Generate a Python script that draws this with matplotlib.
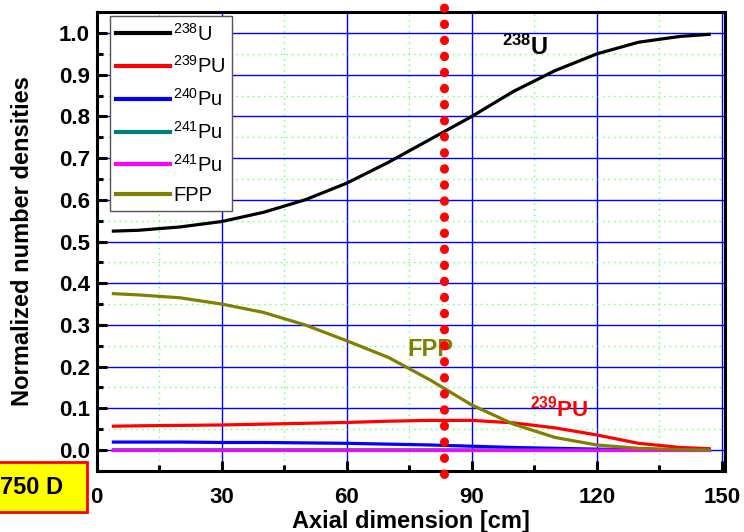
import matplotlib.pyplot as plt
from matplotlib.ticker import MultipleLocator
from matplotlib.patches import Rectangle

plt.rcParams['font.family'] = ['Liberation Sans', 'DejaVu Sans']
plt.rcParams['mathtext.fontset'] = 'custom'
plt.rcParams['mathtext.rm'] = 'Liberation Sans'
plt.rcParams['mathtext.bf'] = 'Liberation Sans:bold'

# axial positions [cm] and normalized number densities
axial = [4, 10, 20, 30, 40, 50, 60, 70, 80, 90, 100, 110, 120, 130, 140, 147]
u238 = [0.525, 0.527, 0.535, 0.548, 0.570, 0.600, 0.640, 0.690, 0.745, 0.800,
        0.860, 0.910, 0.950, 0.978, 0.992, 0.997]
pu239 = [0.057, 0.058, 0.059, 0.060, 0.062, 0.064, 0.066, 0.069, 0.071, 0.071,
         0.065, 0.053, 0.036, 0.016, 0.006, 0.003]
pu240 = [0.019, 0.019, 0.019, 0.018, 0.018, 0.017, 0.016, 0.014, 0.012, 0.009,
         0.006, 0.004, 0.002, 0.001, 0.0005, 0.0]
pu241 = [0.0005, 0.0005, 0.0005, 0.0005, 0.0005, 0.0005, 0.0005, 0.0004, 0.0004,
         0.0003, 0.0002, 0.0001, 0.0, 0.0, 0.0, 0.0]
pu241b = [0.0, 0.0, 0.0, 0.0, 0.0, 0.0, 0.0, 0.0, 0.0, 0.0, 0.0, 0.0, 0.0, 0.0, 0.0, 0.0]
fpp = [0.375, 0.372, 0.365, 0.350, 0.330, 0.300, 0.262, 0.222, 0.168, 0.108,
       0.062, 0.030, 0.012, 0.004, 0.001, 0.0]

series = [
    (u238, 'black', r'$^{238}$U'),
    (pu239, '#ff0000', r'$^{239}$PU'),
    (pu240, '#0000ff', r'$^{240}$Pu'),
    (pu241, '#008080', r'$^{241}$Pu'),
    (pu241b, '#ff00ff', r'$^{241}$Pu'),
    (fpp, '#808000', 'FPP'),
]

cut_position = 83.3

fig = plt.figure(figsize=(7.44, 5.32), dpi=100)
ax = fig.add_axes([0.130, 0.115, 0.844, 0.862])

for values, color, label in series:
    ax.plot(axial, values, color=color, lw=2.3, label=label, zorder=3)

# vertical dotted marker
ax.plot([cut_position, cut_position], [-0.058, 1.1], color='#ff0000', lw=6.5,
        linestyle=(0, (0.05, 1.73)), dash_capstyle='round', clip_on=False,
        zorder=4)

ax.set_xlim(0, 150.7)
ax.set_ylim(-0.05, 1.05)
ax.xaxis.set_major_locator(MultipleLocator(30))
ax.xaxis.set_minor_locator(MultipleLocator(15))
ax.yaxis.set_minor_locator(MultipleLocator(0.05))
ax.set_yticks([i / 10 for i in range(11)])
ax.set_yticklabels([f'{i / 10:.1f}' for i in range(11)])

ax.grid(which='major', color='#0000ff', lw=1.0, zorder=0)
ax.grid(which='minor', color='#66ff66', lw=1.0, linestyle=(0, (1, 3)), zorder=0)
ax.set_axisbelow(True)

for side in ['left', 'bottom', 'right', 'top']:
    ax.spines[side].set_linewidth(2.2)
ax.tick_params(which='major', direction='in', length=7, width=2.2,
               labelsize=16, top=False, right=False)
ax.tick_params(axis='y', which='major', pad=5)
ax.tick_params(axis='x', which='major', pad=12)
ax.tick_params(which='minor', direction='in', length=4, width=2.2,
               top=False, right=False)
for lbl in ax.get_xticklabels() + ax.get_yticklabels():
    lbl.set_fontweight('bold')

ax.set_xlabel('Axial dimension [cm]', fontsize=17, fontweight='bold', labelpad=1)
ax.set_ylabel('Normalized number densities', fontsize=17, fontweight='bold',
              labelpad=18)

leg = ax.legend(loc='upper left', bbox_to_anchor=(0.021, 0.991), borderaxespad=0,
                fontsize=14.5, handlelength=2.7, handletextpad=0.15,
                labelspacing=0.54, fancybox=False, framealpha=1,
                edgecolor='#555555', borderpad=0.3)
leg.get_frame().set_linewidth(1.0)
for line in leg.get_lines():
    line.set_linewidth(3)

ax.text(97.3, 0.965, r'$\mathbf{^{238}}$U', fontsize=17, fontweight='bold',
        color='black', va='center')
ax.text(74.6, 0.24, 'FPP', fontsize=17, fontweight='bold', color='#808000',
        va='center')
ax.text(104, 0.10, r'$\mathbf{^{239}}$PU', fontsize=16, fontweight='bold',
        color='#ff0000', va='center')

# burnup step tag at the lower left
fig.patches.append(Rectangle((-0.02, 1 - 512 / 532), 0.137, 50 / 532,
                             transform=fig.transFigure, facecolor='#ffff00',
                             edgecolor='#ff0000', lw=2, zorder=1))
fig.text(0.0, 1 - 487 / 532, '750 D', fontsize=17, fontweight='bold',
         va='center', ha='left')

fig.savefig('out.png', dpi=100)
